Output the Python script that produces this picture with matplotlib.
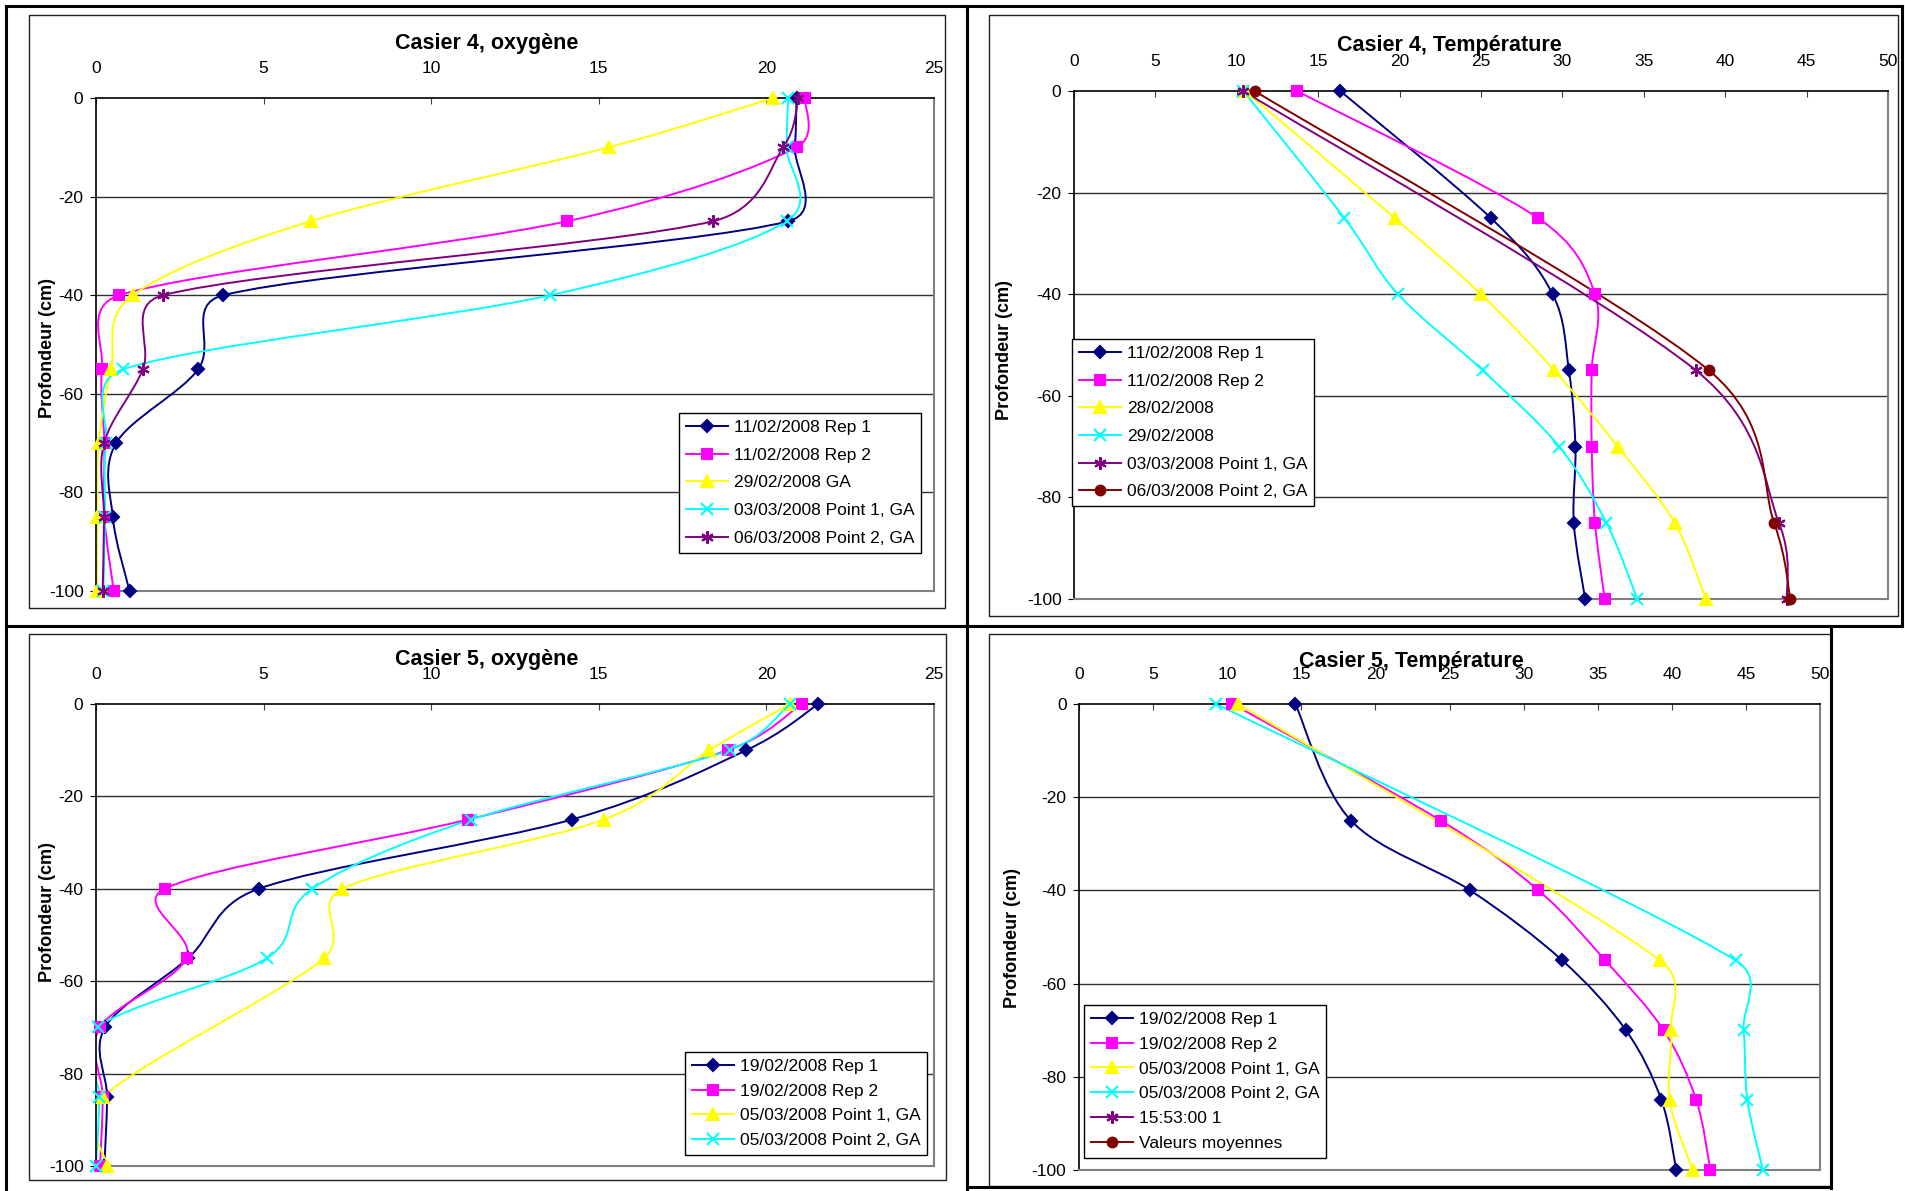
"""
Profils d'oxygene et de temperature, casiers 4 et 5
"""
import numpy as np
import matplotlib
matplotlib.use('Agg')
import matplotlib.pyplot as plt
from matplotlib.path import Path
from matplotlib.patches import PathPatch, Rectangle
from matplotlib.lines import Line2D

plt.rcParams['font.family'] = ['Liberation Sans', 'DejaVu Sans']
plt.rcParams['axes.unicode_minus'] = False

# depths (cm)
depth_o = [0, -10, -25, -40, -55, -70, -85, -100]
depth_t = [0, -25, -40, -55, -70, -85, -100]
nan = np.nan

# Casier 4, oxygene
o4_rep1 = [20.9, 20.85, 20.65, 3.8, 3.05, 0.6, 0.5, 1.0]
o4_rep2 = [21.15, 20.9, 14.05, 0.7, 0.18, 0.25, 0.25, 0.53]
o4_ga = [20.2, 15.3, 6.4, 1.1, 0.45, 0.08, 0.04, 0.03]
o4_p1 = [20.65, 20.6, 20.6, 13.55, 0.82, 0.3, 0.27, 0.22]
o4_p2 = [20.95, 20.5, 18.4, 2.0, 1.4, 0.24, 0.24, 0.2]
o4_labels = ['11/02/2008 Rep 1', '11/02/2008 Rep 2', '29/02/2008 GA',
             '03/03/2008 Point 1, GA', '06/03/2008 Point 2, GA']

# Casier 4, temperature
t4_rep1 = [16.35, 25.6, 29.4, 30.4, 30.8, 30.7, 31.4]
t4_rep2 = [13.7, 28.5, 32.0, 31.8, 31.8, 32.0, 32.6]
t4_2802 = [10.5, 19.7, 25.0, 29.5, 33.4, 36.9, 38.8]
t4_2902 = [10.4, 16.6, 19.9, 25.1, 29.8, 32.7, 34.6]
t4_p1 = [10.4, nan, nan, 38.2, nan, 43.3, 43.8]
t4_p2 = [11.1, nan, nan, 39.0, nan, 43.0, 44.0]
t4_labels = ['11/02/2008 Rep 1', '11/02/2008 Rep 2', '28/02/2008', '29/02/2008',
             '03/03/2008 Point 1, GA', '06/03/2008 Point 2, GA']

# Casier 5, oxygene
o5_rep1 = [21.55, 19.4, 14.2, 4.85, 2.75, 0.27, 0.33, 0.25]
o5_rep2 = [21.05, 18.85, 11.1, 2.05, 2.7, 0.12, 0.2, 0.12]
o5_p1 = [20.7, 18.3, 15.15, 7.35, 6.8, nan, 0.22, 0.33]
o5_p2 = [20.7, 18.9, 11.2, 6.45, 5.1, 0.05, 0.1, 0.0]
o5_labels = ['19/02/2008 Rep 1', '19/02/2008 Rep 2',
             '05/03/2008 Point 1, GA', '05/03/2008 Point 2, GA']

# Casier 5, temperature
t5_rep1 = [14.6, 18.35, 26.4, 32.6, 36.9, 39.3, 40.3]
t5_rep2 = [10.35, 24.4, 31.0, 35.5, 39.45, 41.65, 42.6]
t5_p1 = [10.75, nan, nan, 39.2, 39.95, 39.85, 41.4]
t5_p2 = [9.25, nan, nan, 44.3, 44.85, 45.1, 46.15]
t5_empty1 = []
t5_empty2 = []
t5_labels = ['19/02/2008 Rep 1', '19/02/2008 Rep 2', '05/03/2008 Point 1, GA',
             '05/03/2008 Point 2, GA', '15:53:00 1', 'Valeurs moyennes']

STYLES = [('#000080', 'D', 6.5), ('#FF00FF', 's', 6.5), ('#FFFF00', '^', 8),
          ('#00FFFF', 'x', 8), ('#800080', (6, 2, 0), 9), ('#800000', 'o', 7)]

W, H = 1905, 1191


def fx(px):
    return px / W


def fy(py):
    return 1 - py / H


def smooth_path(x, y, sx, sy):
    # excel-like smoothed line: bezier arms of 1/6 of the neighbour chord,
    # each arm limited to half the segment length (in pixels)
    pts = np.column_stack([np.asarray(x) * sx, np.asarray(y) * sy])
    n = len(pts)
    verts = [pts[0]]
    codes = [Path.MOVETO]
    for i in range(n - 1):
        p0 = pts[i - 1] if i > 0 else pts[i]
        p1 = pts[i]
        p2 = pts[i + 1]
        p3 = pts[i + 2] if i + 2 < n else pts[i + 1]
        seg = np.hypot(*(p2 - p1))
        a1 = (p2 - p0) / 6
        a2 = (p3 - p1) / 6
        for a in (a1, a2):
            la = np.hypot(*a)
            if la > seg / 2:
                a *= (seg / 2) / la
        verts += [p1 + a1, p2 - a2, p2]
        codes += [Path.CURVE4] * 3
    verts = np.array(verts) / [sx, sy]
    return Path(verts, codes)


def panel(fig, box, xmax, depths, series, labels, styles, title, title_xy,
          ylab_xy, leg_xy, leg_spacing):
    x0, y0, x1, y1 = box
    ax = fig.add_axes([fx(x0), fy(y1), fx(x1) - fx(x0), fy(y0) - fy(y1)])
    ax.set_xlim(0, xmax)
    ax.set_ylim(-100, 0)
    ax.set_xticks(np.arange(0, xmax + 1, 5))
    ax.set_yticks([0, -20, -40, -60, -80, -100])
    ax.xaxis.tick_top()
    ax.tick_params(axis='x', direction='in', length=4, pad=16, labelsize=12.5,
                   color='#404040')
    ax.tick_params(axis='y', direction='out', length=4, pad=5, labelsize=12.5)
    for s in ['left', 'top']:
        ax.spines[s].set_color('black')
        ax.spines[s].set_linewidth(1.2)
    for s in ['right', 'bottom']:
        ax.spines[s].set_color('#808080')
        ax.spines[s].set_linewidth(1.5)
    for g in [-20, -40, -60, -80]:
        ax.axhline(g, color='#303030', lw=1.0, zorder=0)

    sx = (x1 - x0) / xmax
    sy = (y1 - y0) / 100
    handles = []
    for vals, lab, (c, m, ms) in zip(series, labels, styles):
        v = np.array(vals, dtype=float)
        d = np.array(depths[:len(v)], dtype=float)
        ok = ~np.isnan(v)
        if ok.sum() > 1:
            ax.add_patch(PathPatch(smooth_path(v[ok], d[ok], sx, sy), fill=False,
                                   edgecolor=c, lw=1.4, zorder=2))
        if ok.sum() > 0:
            ax.plot(v[ok], d[ok], ls='none', marker=m, ms=ms, color=c,
                    mec=c, mew=1.5, zorder=3, clip_on=False)
        handles.append(Line2D([], [], color=c, lw=1.4, marker=m, ms=ms,
                              mec=c, mew=1.5))

    leg = ax.legend(handles, labels, loc='upper left',
                    bbox_to_anchor=(fx(leg_xy[0]), fy(leg_xy[1])),
                    bbox_transform=fig.transFigure, borderaxespad=0,
                    fancybox=False, edgecolor='black', framealpha=1,
                    fontsize=12.5, handlelength=2.4, handletextpad=0.35,
                    labelspacing=leg_spacing, borderpad=0.4)
    leg.get_frame().set_linewidth(1.0)

    fig.text(fx(title_xy[0]), fy(title_xy[1]), title, ha='center', va='center',
             fontsize=15.5, fontweight='bold')
    fig.text(fx(ylab_xy[0]), fy(ylab_xy[1]), 'Profondeur (cm)', rotation=90,
             ha='center', va='center', fontsize=13, fontweight='bold')
    return ax


fig = plt.figure(figsize=(W / 100, H / 100), dpi=100)

# chart frames
for (a, b, c, d) in [(29, 15, 945, 608), (989, 15, 1898, 616),
                     (29, 634, 946, 1180), (989, 634, 1831, 1186)]:
    fig.add_artist(Rectangle((fx(a), fy(d)), fx(c) - fx(a), fy(b) - fy(d),
                             fill=False, ec='#202020', lw=1.0,
                             transform=fig.transFigure))

# table borders
lines = [((6, 1902), (6, 6)), ((6, 6), (6, 1191)), ((967, 967), (6, 1191)),
         ((6, 1902), (626, 626)), ((1902, 1902), (6, 626)),
         ((1831, 1831), (626, 1188)), ((967, 1831), (1187, 1187))]
for xs, ys in lines:
    fig.add_artist(Line2D([fx(xs[0]), fx(xs[1])], [fy(ys[0]), fy(ys[1])],
                          color='black', lw=2.2, transform=fig.transFigure))

panel(fig, (96, 98, 934, 591), 25, depth_o,
      [o4_rep1, o4_rep2, o4_ga, o4_p1, o4_p2], o4_labels, STYLES[:5],
      'Casier 4, oxygène', (487, 44), (47, 348), (679, 413), 0.72)

panel(fig, (1074, 91, 1888, 599), 50, depth_t,
      [t4_rep1, t4_rep2, t4_2802, t4_2902, t4_p1, t4_p2], t4_labels, STYLES,
      'Casier 4, Température', (1449, 45), (1005, 350), (1072, 339), 0.72)

panel(fig, (96, 704, 934, 1166), 25, depth_o,
      [o5_rep1, o5_rep2, o5_p1, o5_p2], o5_labels, STYLES[:4],
      'Casier 5, oxygène', (487, 660), (47, 912), (685, 1052), 0.55)

panel(fig, (1079, 704, 1820, 1170), 50, depth_t,
      [t5_rep1, t5_rep2, t5_p1, t5_p2, t5_empty1, t5_empty2], t5_labels, STYLES,
      'Casier 5, Température', (1411, 661), (1012, 938), (1084, 1005), 0.55)

fig.savefig('out.png', dpi=100, facecolor='white')
